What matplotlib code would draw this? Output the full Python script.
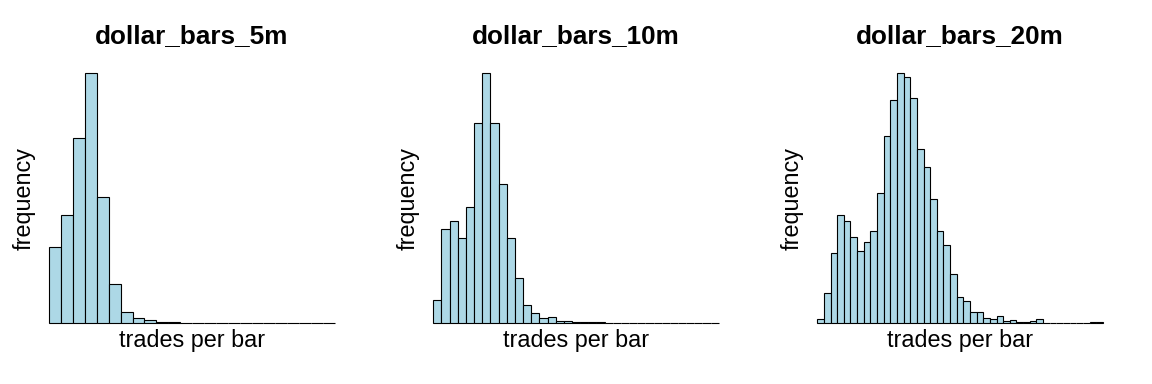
import matplotlib
matplotlib.use("Agg")
import matplotlib.pyplot as plt

plt.rcParams['font.family'] = ['Liberation Sans', 'DejaVu Sans']

# Relative bar heights (peak = 1)
titles = ["dollar_bars_5m", "dollar_bars_10m", "dollar_bars_20m"]

freq_5m = [0.304, 0.433, 0.74, 1.0, 0.503, 0.156, 0.043, 0.019, 0.011, 0.005,
           0.003, 0.002, 0.001, 0.001, 0.0, 0.0, 0.001, 0.0, 0.0, 0.0,
           0.0, 0.0, 0.0, 0.0]

freq_10m = [0.093, 0.377, 0.408, 0.34, 0.465, 0.80, 1.0, 0.80, 0.557, 0.339,
            0.18, 0.072, 0.039, 0.021, 0.024, 0.007, 0.007, 0.004, 0.005, 0.003,
            0.004, 0.001, 0.001, 0.0, 0.0, 0.0, 0.0, 0.0, 0.0, 0.0,
            0.001, 0.0, 0.0, 0.0, 0.001]

freq_20m = [0.016, 0.12, 0.28, 0.432, 0.41, 0.345, 0.29, 0.325, 0.37, 0.52,
            0.75, 0.893, 1.0, 0.985, 0.90, 0.695, 0.624, 0.496, 0.37, 0.313,
            0.196, 0.103, 0.087, 0.043, 0.043, 0.02, 0.015, 0.029, 0.007, 0.011,
            0.003, 0.003, 0.008, 0.015, 0.001, 0.0, 0.0, 0.002, 0.002, 0.0,
            0.0, 0.003, 0.006]

series = [freq_5m, freq_10m, freq_20m]

xlabel = "trades per bar"
ylabel = "frequency"

W, H = 1152, 384
fig = plt.figure(figsize=(W / 100, H / 100), dpi=100)

panel_left = [49.3, 433.3, 817.3]
panel_width = 285.5
base_y = 323.0
top_y = 73.0

for i, (title, vals) in enumerate(zip(titles, series)):
    x0 = panel_left[i]
    ax = fig.add_axes([x0 / W, (H - base_y) / H, panel_width / W, (base_y - top_y) / H])
    n = len(vals)
    ax.bar(range(n), vals, width=1.0, align='edge', color='#ADD8E6',
           edgecolor='black', linewidth=0.8, clip_on=False)
    ax.set_xlim(0, n)
    ax.set_ylim(0, max(vals))
    ax.axis('off')
    cx = x0 + panel_width / 2
    fig.text(cx / W, 1 - 42.7 / H, title, ha='center', va='baseline',
             fontsize=18.8, fontweight='bold')
    fig.text(cx / W, 1 - 346.7 / H, xlabel, ha='center', va='baseline',
             fontsize=16.8)
    fig.text((x0 - 25.3) / W, 1 - 198 / H, ylabel, ha='center', va='center',
             rotation=90, fontsize=16.8)

fig.savefig("out.png", dpi=100)
